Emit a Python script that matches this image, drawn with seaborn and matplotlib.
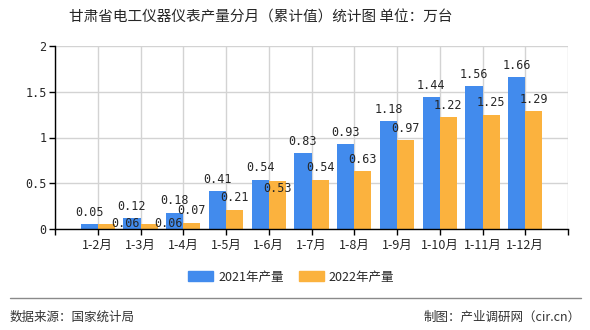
import matplotlib
matplotlib.use("Agg")
import matplotlib.pyplot as plt
from matplotlib.lines import Line2D
import seaborn as sns
import pandas as pd

# Cumulative monthly output (10k units)
months = ["1-2月", "1-3月", "1-4月", "1-5月", "1-6月", "1-7月",
          "1-8月", "1-9月", "1-10月", "1-11月", "1-12月"]
output_2021 = [0.05, 0.12, 0.18, 0.41, 0.54, 0.83, 0.93, 1.18, 1.44, 1.56, 1.66]
output_2022 = [0.06, 0.06, 0.07, 0.21, 0.53, 0.54, 0.63, 0.97, 1.22, 1.25, 1.29]
series_names = ["2021年产量", "2022年产量"]
y_ticks = [0, 0.5, 1, 1.5, 2]
y_tick_labels = ["0", "0.5", "1", "1.5", "2"]

title = "甘肃省电工仪器仪表产量分月（累计值）统计图 单位：万台"
source_text = "数据来源：国家统计局"
credit_text = "制图：产业调研网（cir.cn）"

BLUE = "#428bed"
ORANGE = "#fbb23e"
CJK = ["Noto Sans CJK SC", "DejaVu Sans"]
MONO = ["DejaVu Sans Mono", "Noto Sans CJK SC"]

sns.set_theme(style="white")
plt.rcParams["font.family"] = CJK

df = pd.DataFrame({
    "month": months * 2,
    "value": output_2021 + output_2022,
    "series": [series_names[0]] * len(months) + [series_names[1]] * len(months),
})

W, H = 590, 330
fig = plt.figure(figsize=(W / 100, H / 100), dpi=100)
ax = fig.add_axes([55 / W, 1 - 229 / H, (568 - 55) / W, (229 - 46) / H])

sns.barplot(data=df, x="month", y="value", hue="series", order=months,
            hue_order=series_names, palette=[BLUE, ORANGE], width=0.8,
            saturation=1, ax=ax, legend=False, linewidth=0, errorbar=None)

ax.set_xlim(-1, len(months))
ax.set_ylim(0, 2)
ax.set_xlabel("")
ax.set_ylabel("")

# category boundaries carry the ticks and the vertical grid
xt = list(range(-1, len(months) + 1))
ax.set_xticks(xt)
ax.set_xticklabels([""] + months + [""], fontsize=9, family=CJK)
ax.set_yticks(y_ticks)
ax.set_yticklabels(y_tick_labels, fontsize=8.5, family=MONO)
ax.tick_params(axis="x", length=4, width=1, color="black", direction="out",
               pad=3, bottom=True)
ax.tick_params(axis="y", length=4, width=1, color="black", direction="out",
               pad=2, left=True)
ax.grid(True, color="#d3d3d3", linewidth=1)
ax.set_axisbelow(True)
for side in ("top", "right"):
    ax.spines[side].set_visible(False)
for side in ("left", "bottom"):
    ax.spines[side].set_color("black")
    ax.spines[side].set_linewidth(1)

# value labels sit above each bar; a few are nudged to keep them from colliding
LIFT = 8.5  # points from bar top to label centre
offsets_2022 = {0: (14, 0), 1: (14, 0), 4: (0, -6)}
for i, v in enumerate(output_2021):
    ax.annotate(f"{v:.2f}", (i - 0.2, v), xytext=(0, LIFT), textcoords="offset points",
                ha="center", va="center", fontsize=8.5, family=MONO)
for i, v in enumerate(output_2022):
    dx, dy = offsets_2022.get(i, (0, LIFT))
    ax.annotate(f"{v:.2f}", (i + 0.2, v), xytext=(dx, dy), textcoords="offset points",
                ha="center", va="center", fontsize=8.5, family=MONO)

fig.text(261 / W, 1 - 18 / H, title, ha="center", va="center", fontsize=10.5,
         family=CJK)

handles = [plt.Rectangle((0, 0), 1, 1, color=BLUE),
           plt.Rectangle((0, 0), 1, 1, color=ORANGE)]
fig.legend(handles, series_names, loc="center", bbox_to_anchor=(291 / W, 1 - 277 / H),
           ncol=2, frameon=False, fontsize=9, handlelength=2.0, handleheight=0.9,
           handletextpad=0.4, columnspacing=1.2, borderpad=0)

fig.add_artist(Line2D([10 / W, 581 / W], [1 - 298 / H, 1 - 298 / H],
                      color="#8a8a8a", linewidth=1, transform=fig.transFigure))
fig.text(10 / W, 1 - 317 / H, source_text, ha="left", va="center", fontsize=9,
         color="#333333", family=CJK)
fig.text(581 / W, 1 - 317 / H, credit_text, ha="right", va="center", fontsize=9,
         color="#333333", family=CJK)

fig.savefig("out.png", dpi=100)
